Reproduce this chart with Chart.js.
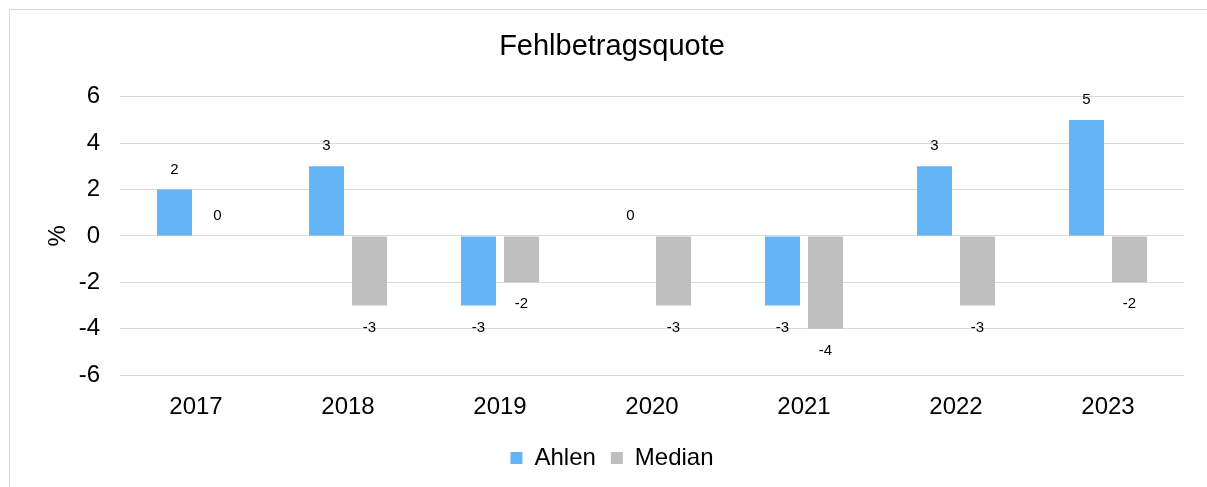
<!DOCTYPE html>
<html lang="de">
<head>
  <meta charset="UTF-8">
  <title>Fehlbetragsquote</title>
  <style>
    html, body {
      margin: 0;
      padding: 0;
      background: #ffffff;
      overflow: hidden;
    }
    /* Rahmen des Diagrammbereichs (rechts/unten ausserhalb des Fensters) */
    .frame {
      position: absolute;
      left: 9px;
      top: 9px;
      width: 1260px;
      height: 540px;
      border: 1px solid #d9d9d9;
      box-sizing: border-box;
    }
    .chart-box {
      position: absolute;
      left: 0;
      top: 0;
      width: 1207px;
      height: 487px;
    }
  </style>
  <script src="https://cdn.jsdelivr.net/npm/chart.js"></script>
</head>
<body>
  <div class="frame"></div>
  <div class="chart-box">
    <canvas id="grafik"></canvas>
  </div>

  <script>
    const jahre = ['2017', '2018', '2019', '2020', '2021', '2022', '2023'];
    const ahlen = [2, 3, -3, 0, -3, 3, 5];
    const median = [0, -3, -2, -3, -4, -3, -2];
    const yTicks = [-6, -4, -2, 0, 2, 4, 6];

    const SCHRIFT = '"Liberation Sans", Arial, sans-serif';

    // Werte ueber bzw. unter den Balkenenden
    const wertBeschriftung = {
      id: 'wertBeschriftung',
      afterDatasetsDraw(chart) {
        const ctx = chart.ctx;
        ctx.save();
        ctx.font = '15px ' + SCHRIFT;
        ctx.fillStyle = '#000000';
        ctx.textAlign = 'center';
        ctx.textBaseline = 'middle';
        chart.data.datasets.forEach((ds, i) => {
          const meta = chart.getDatasetMeta(i);
          meta.data.forEach((bar, j) => {
            const v = ds.data[j];
            const y = v >= 0 ? bar.y - 20 : bar.y + 22;
            ctx.fillText(String(v), bar.x, y);
          });
        });
        ctx.restore();
      }
    };

    new Chart(document.getElementById('grafik'), {
      type: 'bar',
      data: {
        labels: jahre,
        datasets: [
          {
            label: 'Ahlen',
            data: ahlen,
            backgroundColor: '#64b5f6',
            borderWidth: 0,
            barPercentage: 0.814,
            categoryPercentage: 0.566
          },
          {
            label: 'Median',
            data: median,
            backgroundColor: '#bfbfbf',
            borderWidth: 0,
            barPercentage: 0.814,
            categoryPercentage: 0.566
          }
        ]
      },
      options: {
        responsive: true,
        maintainAspectRatio: false,
        animation: false,
        layout: {
          padding: { left: 40, right: 23, top: 0, bottom: 7 }
        },
        plugins: {
          title: {
            display: true,
            text: 'Fehlbetragsquote',
            color: '#000000',
            font: { family: SCHRIFT, size: 29, weight: 'normal' },
            padding: { top: 30, bottom: 32 }
          },
          legend: {
            position: 'bottom',
            labels: {
              color: '#000000',
              font: { family: SCHRIFT, size: 24 },
              boxWidth: 12,
              boxHeight: 12,
              padding: 15
            }
          },
          tooltip: { enabled: false }
        },
        scales: {
          x: {
            grid: { display: false },
            border: { display: false },
            ticks: {
              color: '#000000',
              font: { family: SCHRIFT, size: 24 },
              padding: 10
            },
            afterFit(scale) { scale.height = 56; }
          },
          y: {
            min: -6,
            max: 6,
            afterBuildTicks(scale) {
              scale.ticks = yTicks.map(v => ({ value: v }));
            },
            grid: { color: '#d9d9d9', lineWidth: 1, drawTicks: false },
            border: { display: false },
            ticks: {
              color: '#000000',
              font: { family: SCHRIFT, size: 24 },
              padding: 20
            },
            title: {
              display: true,
              text: '%',
              color: '#000000',
              font: { family: SCHRIFT, size: 24 },
              padding: { top: 4, bottom: 0 }
            },
            afterFit(scale) { scale.width = 80; }
          }
        }
      },
      plugins: [wertBeschriftung]
    });
  </script>
</body>
</html>
